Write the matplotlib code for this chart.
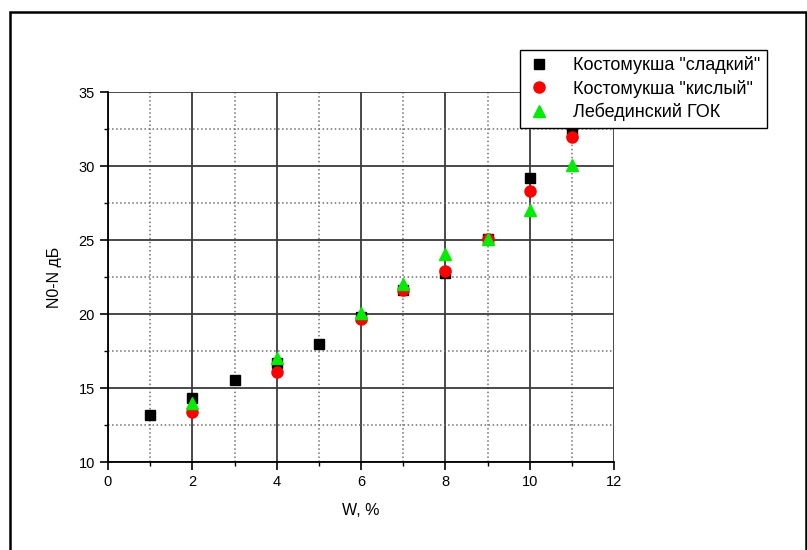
import numpy as np
import matplotlib
matplotlib.use("Agg")
import matplotlib.pyplot as plt
from matplotlib.patches import Rectangle
from matplotlib.ticker import MultipleLocator

plt.rcParams['font.family'] = ['Liberation Sans', 'DejaVu Sans']

# -------------------------
# DATA
# -------------------------
x_sweet = [1, 2, 3, 4, 5, 6, 7, 8, 9, 10, 11]
y_sweet = [13.2, 14.3, 15.55, 16.7, 18.0, 19.8, 21.6, 22.8, 25.1, 29.2, 32.2]

x_sour = [2, 4, 6, 7, 8, 9, 10, 11]
y_sour = [13.35, 16.1, 19.65, 21.6, 22.9, 25.05, 28.3, 31.95]

x_leb = [2, 4, 6, 7, 8, 9, 10, 11]
y_leb = [14.0, 17.05, 20.05, 22.0, 24.05, 25.07, 27.05, 30.05]

labels = ['Костомукша "сладкий"', 'Костомукша "кислый"', 'Лебединский ГОК']

# -------------------------
# PLOT
# -------------------------
W, H = 807, 550
fig = plt.figure(figsize=(W / 100, H / 100), dpi=100)
ax = fig.add_axes([108 / W, 88 / H, 506 / W, 370 / H])

ax.plot(x_sweet, y_sweet, 's', color='black', markersize=7, label=labels[0], zorder=3)
ax.plot(x_sour, y_sour, 'o', color='red', markersize=8, label=labels[1], zorder=4)
ax.plot(x_leb, y_leb, '^', color='#00ee00', markersize=8, label=labels[2], zorder=5)

ax.set_xlim(0, 12)
ax.set_ylim(10, 35)
ax.xaxis.set_major_locator(MultipleLocator(2))
ax.xaxis.set_minor_locator(MultipleLocator(1))
ax.yaxis.set_major_locator(MultipleLocator(5))
ax.yaxis.set_minor_locator(MultipleLocator(2.5))

ax.grid(which='major', color='#3a3a3a', linestyle='-', linewidth=1.3)
ax.grid(which='minor', color='#707070', linestyle=':', linewidth=1.1)
ax.set_axisbelow(True)

for s in ['top', 'right']:
    ax.spines[s].set_visible(False)
for s in ['left', 'bottom']:
    ax.spines[s].set_linewidth(1.3)

ax.tick_params(which='major', direction='out', length=6, width=1.2, labelsize=10.5)
ax.tick_params(which='minor', direction='out', length=3, width=1.0)

ax.set_xlabel('W, %', fontsize=11.5, labelpad=10)
ax.set_ylabel('N0-N дБ', fontsize=11.5, labelpad=12)

leg = ax.legend(loc='upper right', bbox_to_anchor=(767 / W, 500 / H),
                bbox_transform=fig.transFigure, borderaxespad=0,
                fancybox=False, edgecolor='black', framealpha=1,
                fontsize=13, handlelength=1.4, handletextpad=1.2,
                labelspacing=0.3, borderpad=0.35)
leg.get_frame().set_linewidth(1.0)

# outer frame around the figure
fig.patches.append(Rectangle((10 / W, -0.02), 796 / W, (H - 12) / H + 0.02,
                             transform=fig.transFigure, fill=False,
                             edgecolor='black', linewidth=1.8, clip_on=False))

plt.savefig("out.png", dpi=100)
